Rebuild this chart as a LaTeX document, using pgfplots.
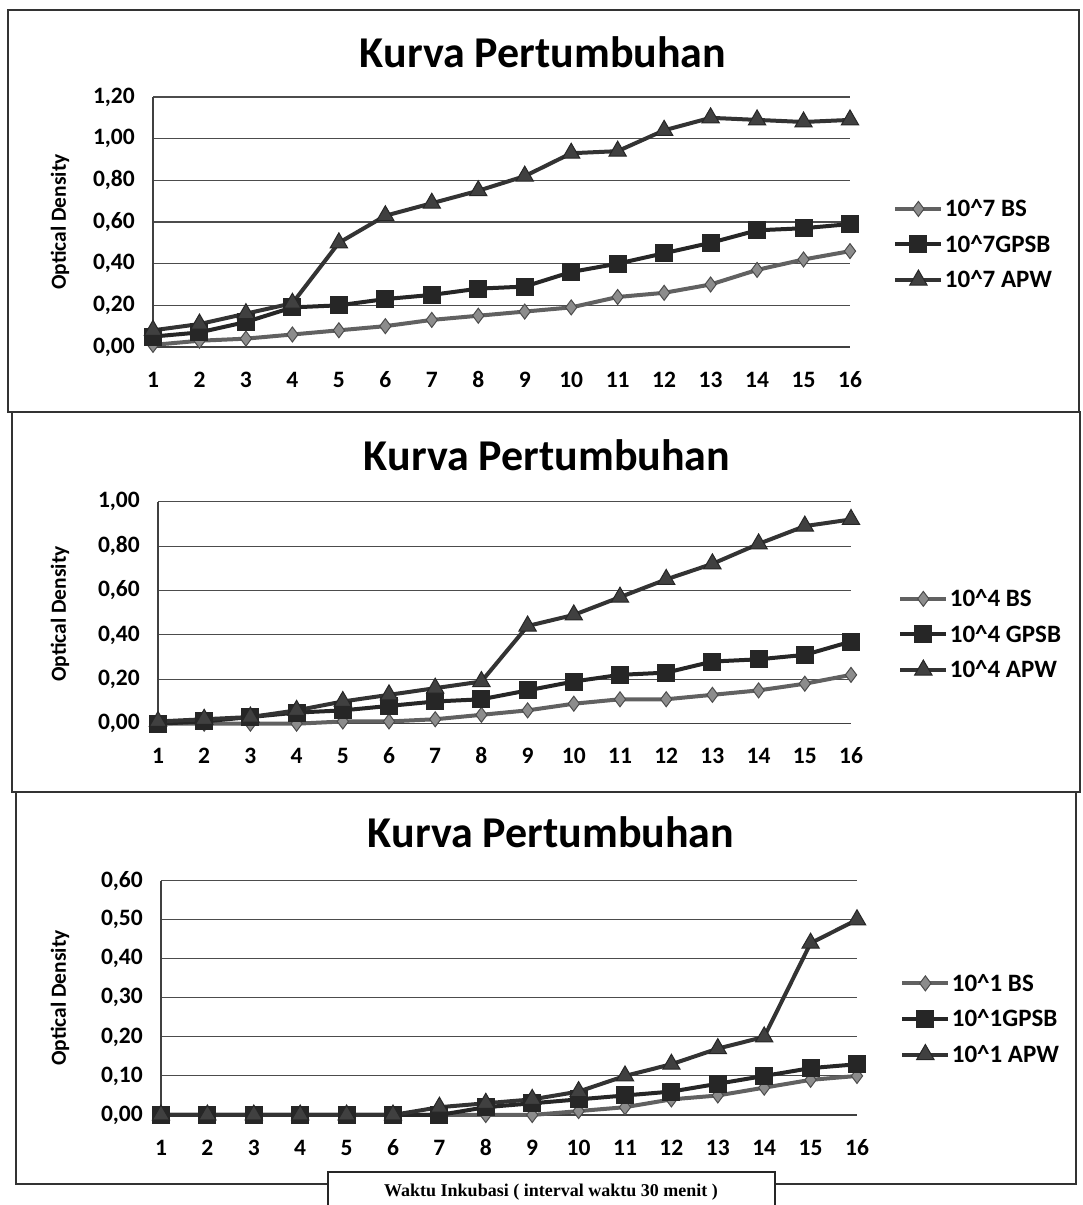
\documentclass[border=0pt]{standalone}
\usepackage{fontspec}
\setmainfont{Carlito}
\newfontfamily\serifb{Liberation Serif}
\usepackage{pgfplots}
\pgfplotsset{compat=1.18}
\pgfplotsset{
  panel/.style={
    scale only axis, anchor=south west, clip=false,
    xmin=1, xmax=16, ymin=0,
    xtick={1,...,16},
    axis x line=bottom, axis y line=left,
    axis line style={-, black!75, line width=1.2pt},
    ymajorgrids, grid style={black!70, line width=1.1pt},
    major tick length=0pt,
    /pgf/number format/assume math mode=true,
    tick label style={font=\bfseries\fontsize{23.5}{23.5}\selectfont, inner sep=0pt},
    xticklabel style={text height=15pt, text depth=0pt},
    xticklabel shift=25pt, yticklabel shift=18pt,
    yticklabel style={/pgf/number format/.cd, fixed, fixed zerofill, precision=2, use comma},
    legend style={draw=none, fill=none, inner sep=0pt, anchor=west,
      font=\bfseries\fontsize{25}{25}\selectfont, nodes={inner sep=1.5pt}, row sep=14pt},
    legend cell align=left,
    legend image code/.code={\draw[mark repeat=2,mark phase=2,##1] plot coordinates {(0pt,0pt) (23pt,0pt) (46pt,0pt)};},
  },
  bs/.style={black!62, line width=4pt, mark=diamond*, mark size=7.5pt, mark options={fill=black!45, draw=black!70, line width=1pt}},
  gp/.style={black!85, line width=4pt, mark=square*, mark size=8.5pt, mark options={fill=black!85, draw=black!85, line width=1pt}},
  ap/.style={black!80, line width=4pt, mark=triangle*, mark size=10pt, mark options={fill=black!75, draw=black!85, line width=1pt}},
}
\newcommand{\ttl}{\bfseries\fontsize{44}{50}\selectfont Kurva Pertumbuhan}
\newcommand{\ylab}{\bfseries\fontsize{21.5}{23}\selectfont Optical Density}
\begin{document}
\begin{tikzpicture}[x=1pt,y=1pt]
\useasboundingbox (0,0) rectangle (1083,1205);
\fill[white] (0,0) rectangle (1083,1205);
% panel boxes
\draw[black!80, line width=1.5pt] (8,1195) rectangle (1079,793);
\draw[black!80, line width=1.5pt] (12,793) rectangle (1080,413);
\draw[black!80, line width=1.5pt] (16,413) rectangle (1076,21);

% Panel 1
\begin{axis}[panel, at={(153pt,858pt)}, width=697pt, height=250pt, ymax=1.2,
  ytick={0,0.2,0.4,0.6,0.8,1.0,1.2},
  legend style={at={(axis description cs:1.062,0.41)}}]
\addplot[bs] coordinates {(1,0.01)(2,0.03)(3,0.04)(4,0.06)(5,0.08)(6,0.10)(7,0.13)(8,0.15)(9,0.17)(10,0.19)(11,0.24)(12,0.26)(13,0.30)(14,0.37)(15,0.42)(16,0.46)};
\addplot[gp] coordinates {(1,0.05)(2,0.07)(3,0.12)(4,0.19)(5,0.20)(6,0.23)(7,0.25)(8,0.28)(9,0.29)(10,0.36)(11,0.40)(12,0.45)(13,0.50)(14,0.56)(15,0.57)(16,0.59)};
\addplot[ap] coordinates {(1,0.08)(2,0.11)(3,0.16)(4,0.21)(5,0.50)(6,0.63)(7,0.69)(8,0.75)(9,0.82)(10,0.93)(11,0.94)(12,1.04)(13,1.10)(14,1.09)(15,1.08)(16,1.09)};
\legend{10\textasciicircum7 BS, 10\textasciicircum7GPSB, 10\textasciicircum7 APW}
\end{axis}

% Panel 2
\begin{axis}[panel, at={(158pt,481.3pt)}, width=693pt, height=222pt, ymax=1.0,
  ytick={0,0.2,0.4,0.6,0.8,1.0},
  legend style={at={(axis description cs:1.068,0.402)}}]
\addplot[bs] coordinates {(1,0.00)(2,0.00)(3,0.00)(4,0.00)(5,0.01)(6,0.01)(7,0.02)(8,0.04)(9,0.06)(10,0.09)(11,0.11)(12,0.11)(13,0.13)(14,0.15)(15,0.18)(16,0.22)};
\addplot[gp] coordinates {(1,0.00)(2,0.01)(3,0.03)(4,0.05)(5,0.06)(6,0.08)(7,0.10)(8,0.11)(9,0.15)(10,0.19)(11,0.22)(12,0.23)(13,0.28)(14,0.29)(15,0.31)(16,0.37)};
\addplot[ap] coordinates {(1,0.01)(2,0.02)(3,0.03)(4,0.06)(5,0.10)(6,0.13)(7,0.16)(8,0.19)(9,0.44)(10,0.49)(11,0.57)(12,0.65)(13,0.72)(14,0.81)(15,0.89)(16,0.92)};
\legend{10\textasciicircum4 BS, 10\textasciicircum4 GPSB, 10\textasciicircum4 APW}
\end{axis}

% Panel 3
\begin{axis}[panel, at={(161pt,90pt)}, width=696pt, height=234.3pt, ymax=0.6,
  ytick={0,0.1,0.2,0.3,0.4,0.5,0.6},
  legend style={at={(axis description cs:1.062,0.41)}}]
\addplot[bs] coordinates {(1,0)(2,0)(3,0)(4,0)(5,0)(6,0)(7,0)(8,0)(9,0)(10,0.01)(11,0.02)(12,0.04)(13,0.05)(14,0.07)(15,0.09)(16,0.10)};
\addplot[gp] coordinates {(1,0)(2,0)(3,0)(4,0)(5,0)(6,0)(7,0)(8,0.02)(9,0.03)(10,0.04)(11,0.05)(12,0.06)(13,0.08)(14,0.10)(15,0.12)(16,0.13)};
\addplot[ap] coordinates {(1,0)(2,0)(3,0)(4,0)(5,0)(6,0)(7,0.02)(8,0.03)(9,0.04)(10,0.06)(11,0.10)(12,0.13)(13,0.17)(14,0.20)(15,0.44)(16,0.50)};
\legend{10\textasciicircum1 BS, 10\textasciicircum1GPSB, 10\textasciicircum1 APW}
\end{axis}

% titles and y labels
\node at (543,1153) {\ttl};
\node at (547,750) {\ttl};
\node at (551,373) {\ttl};
\node[rotate=90] at (60,983) {\ylab};
\node[rotate=90] at (60,591) {\ylab};
\node[rotate=90] at (60,207) {\ylab};

% bottom label box
\draw[black!85, line width=1.5pt, fill=white] (328,-10) rectangle (775,33);
\node at (551,13) {\serifb\bfseries\fontsize{18}{20}\selectfont Waktu Inkubasi ( interval waktu 30 menit )};
\end{tikzpicture}
\end{document}
